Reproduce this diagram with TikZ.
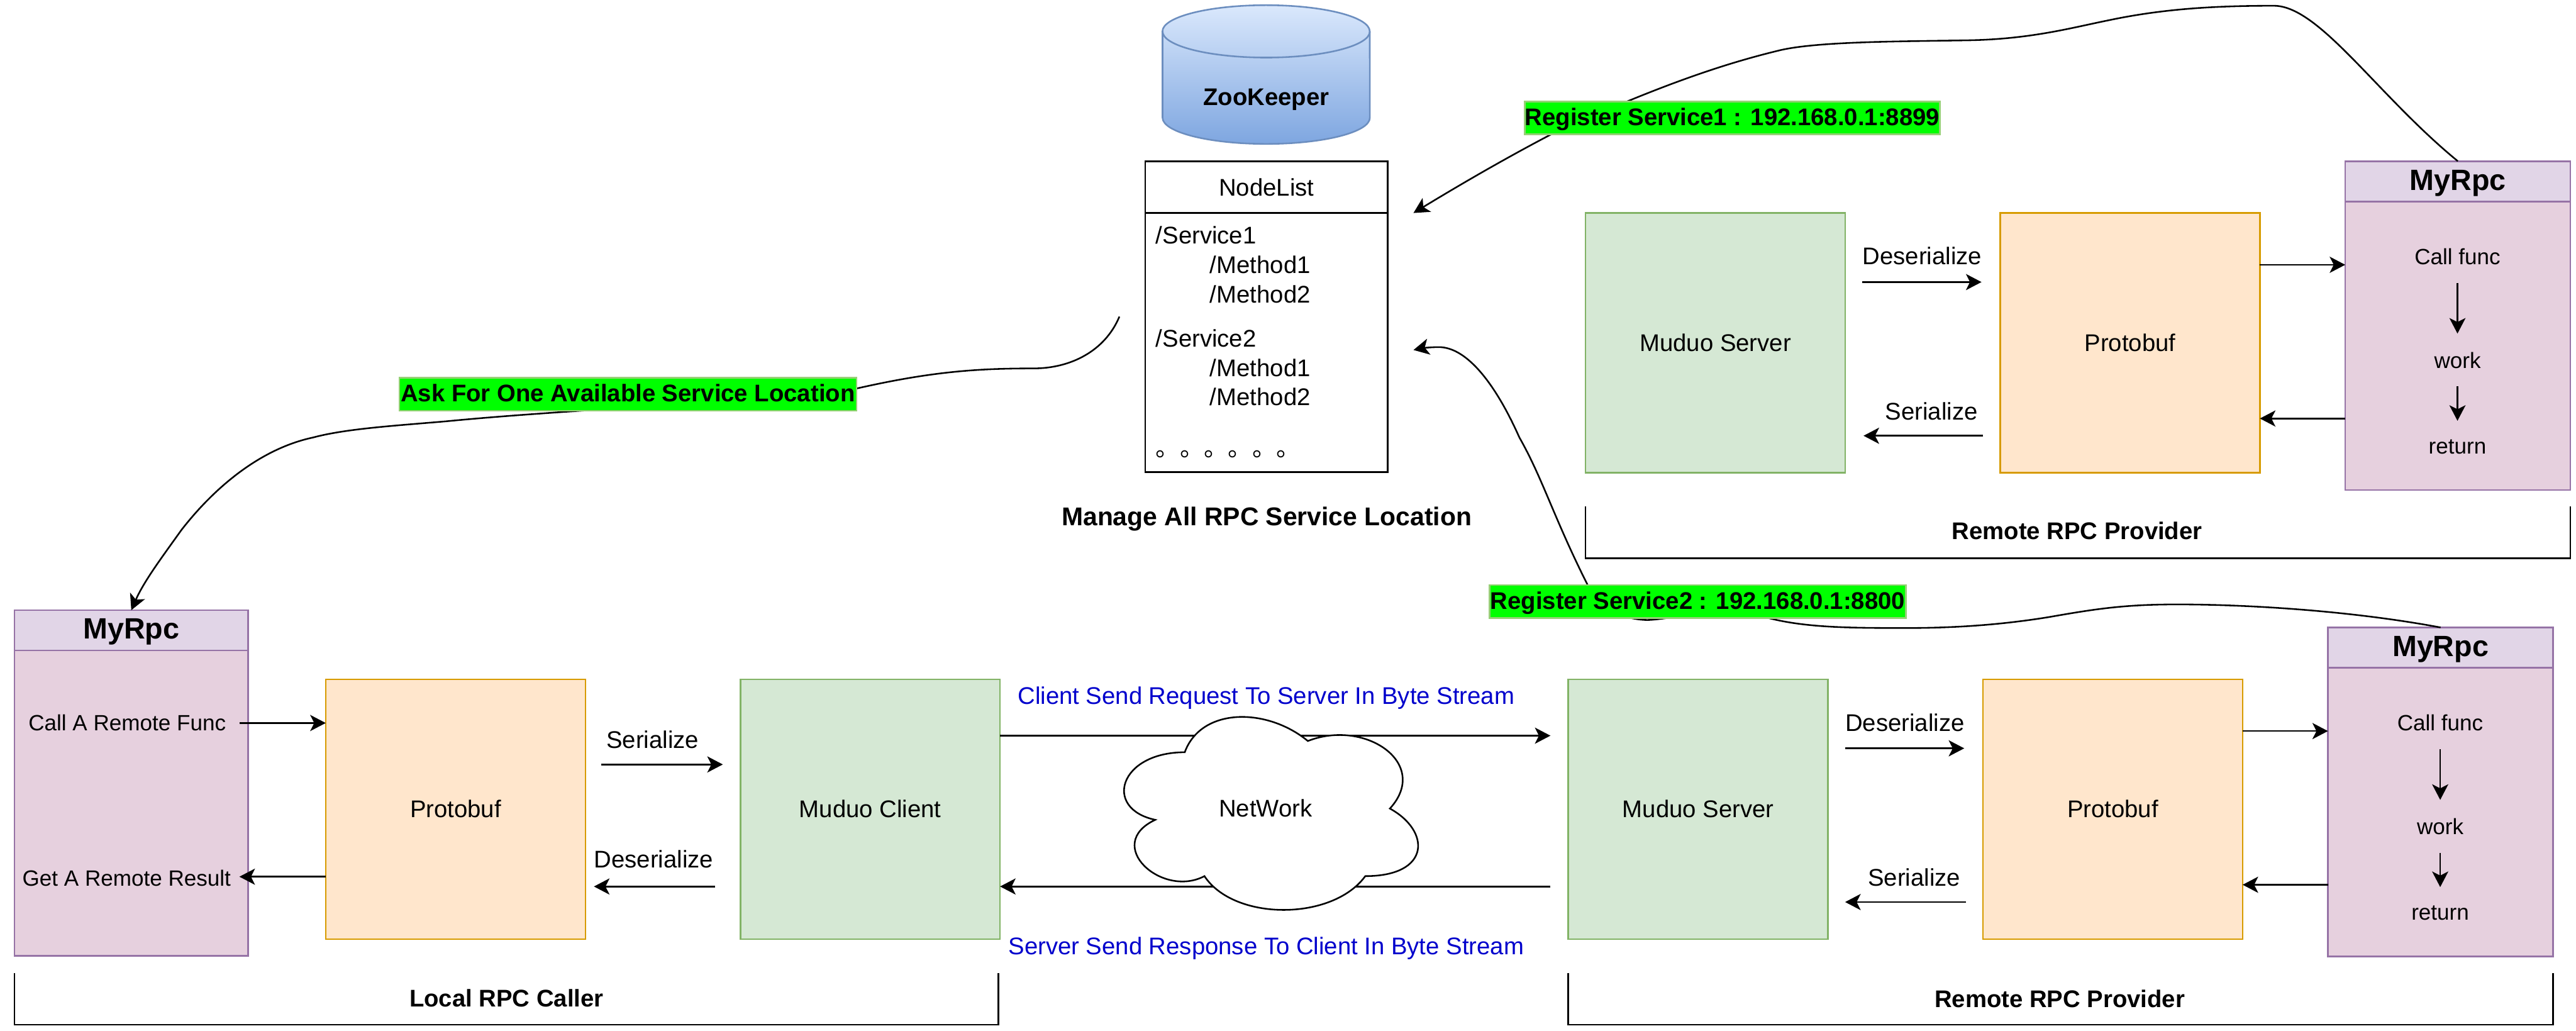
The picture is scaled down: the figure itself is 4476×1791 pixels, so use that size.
\documentclass[tikz,border=0pt]{standalone}
\usepackage{fontspec}
\setmainfont{Liberation Sans}
\newfontfamily\cjk{Noto Sans CJK SC}
\usetikzlibrary{positioning,arrows.meta}
\definecolor{mgreen}{HTML}{D5E8D4}
\definecolor{mgreenl}{HTML}{82B366}
\definecolor{morange}{HTML}{FFE6CC}
\definecolor{morangel}{HTML}{D79B00}
\definecolor{mpurple}{HTML}{E6D0DE}
\definecolor{mpurplel}{HTML}{9673A6}
\definecolor{mhead}{HTML}{E1D5E7}
\definecolor{mtag}{HTML}{97D077}
\definecolor{mdbtop}{HTML}{DAE8FC}
\definecolor{mdbbot}{HTML}{7EA6E0}
\definecolor{mdbl}{HTML}{6C8EBF}
\definecolor{mblue}{HTML}{0000CC}

\begin{document}
\begin{tikzpicture}[x=0.01cm, y=-0.01cm, line width=0.8pt,
  >={Stealth[length=2.7mm,width=2.8mm,inset=0.7mm]},
  txt/.style={font=\fontsize{11.9}{14}\selectfont, inner sep=0pt},
  fn/.style={font=\fontsize{10.9}{13}\selectfont, inner sep=0pt},
  bold/.style={font=\fontsize{11.9}{15}\selectfont\bfseries, inner sep=0pt},
  box/.style={txt, draw, outer sep=0pt, minimum width=4.51cm, minimum height=4.51cm},
  muduo/.style={box, draw=mgreenl, fill=mgreen},
  proto/.style={box, draw=morangel, fill=morange},
  head/.style={draw=mpurplel, fill=mhead, outer sep=0pt, inner sep=0pt, minimum height=0.7cm, text height=0.37cm, text depth=0.07cm, font=\fontsize{14.5}{16}\selectfont\bfseries},
  body/.style={draw=mpurplel, fill=mpurple, outer sep=0pt, inner sep=0pt, minimum height=5.01cm},
  tag/.style={font=\fontsize{11.9}{14}\selectfont\bfseries, draw=mtag, fill=green, outer sep=0pt, inner sep=0pt, minimum height=0.57cm, text height=0.32cm, text depth=0.06cm},
  msg/.style={txt, text=mblue}]
\useasboundingbox (0,0) rectangle (4476,1791);

% zookeeper
\draw[draw=mdbl, top color=mdbtop, bottom color=mdbbot] (2020,54.5) -- (2020,204.5) arc[start angle=180, end angle=360, x radius=1.8cm, y radius=0.455cm] -- (2380,54.5) arc[start angle=0, end angle=180, x radius=1.8cm, y radius=0.455cm] -- cycle;
\draw[draw=mdbl] (2020,54.5) arc[start angle=180, end angle=360, x radius=1.8cm, y radius=0.455cm];
\node[bold] (zk) at (2200,173) {ZooKeeper};
\node[txt, draw, outer sep=0pt, minimum width=4.21cm, minimum height=0.9cm, anchor=north west] (listhead) at (1990,280) {NodeList};
\node[draw, outer sep=0pt, minimum width=4.21cm, minimum height=4.5cm, below=0cm of listhead] (listbody) {};
\node[txt, align=left, anchor=north west, font=\fontsize{11.9}{14.5}\selectfont] (items) at (2007,392) {/Service1\\
\hspace*{0.94cm}/Method1\\
\hspace*{0.94cm}/Method2\\[0.26cm]
/Service2\\
\hspace*{0.94cm}/Method1\\
\hspace*{0.94cm}/Method2\\[0.37cm]
{\cjk 。。。。。。}};
\node[bold, font=\fontsize{12.7}{15}\selectfont\bfseries] (manage) at (2201,902) {Manage All RPC Service Location};

% local caller
\node[head, minimum width=4.06cm, anchor=north west] (rpca) at (25,1060) {MyRpc};
\node[body, minimum width=4.06cm, minimum height=5.3cm, below=0cm of rpca] (rpcabody) {};
\node[proto, anchor=north west] (pba) at (566,1180) {Protobuf};
\node[muduo, right=2.69cm of pba] (cli) {Muduo Client};
\node[fn] (calla) at (221,1256) {Call A Remote Func};
\node[fn] (geta) at (220,1525) {Get A Remote Result};
\node[txt] (sera) at (1134,1285) {Serialize};
\node[txt] (desa) at (1136,1493) {Deserialize};
\node[bold] (local) at (880,1734) {Local RPC Caller};

% lower provider
\node[muduo, anchor=north west] (srvb) at (2725,1180) {Muduo Server};
\node[proto, right=2.69cm of srvb] (pbb) {Protobuf};
\node[head, minimum width=3.91cm, anchor=north west] (rpcb) at (4045,1090) {MyRpc};
\node[body, minimum width=3.91cm, below=0cm of rpcb] (rpcbbody) {};
\node[fn] (callb) at (4240,1256) {Call func};
\node[fn] (workb) at (4240,1436) {work};
\node[fn] (retb) at (4240,1586) {return};
\node[txt] (desb) at (3310,1255) {Deserialize};
\node[txt] (serb) at (3326,1524) {Serialize};
\node[bold] (provb) at (3579,1735) {Remote RPC Provider};

% upper provider
\node[muduo, anchor=north west] (srvc) at (2755,370) {Muduo Server};
\node[proto, right=2.69cm of srvc] (pbc) {Protobuf};
\node[head, minimum width=3.91cm, anchor=north west] (rpcc) at (4075,280) {MyRpc};
\node[body, minimum width=3.91cm, below=0cm of rpcc] (rpccbody) {};
\node[fn] (callc) at (4270,446) {Call func};
\node[fn] (workc) at (4270,626) {work};
\node[fn] (retc) at (4270,776) {return};
\node[txt] (desc) at (3340,445) {Deserialize};
\node[txt] (serc) at (3356,714) {Serialize};
\node[bold] (provc) at (3609,922) {Remote RPC Provider};

% free ends
\coordinate (a1) at (416,1256);
\coordinate (a2) at (416,1523);
\coordinate (a3) at (1045,1328);
\coordinate (a4) at (1256,1328);
\coordinate (a5) at (1242,1540);
\coordinate (a6) at (1032,1540);
\coordinate (m1) at (2694,1278);
\coordinate (m2) at (2694,1540);
\coordinate (b1) at (3206,1300);
\coordinate (b2) at (3413,1300);
\coordinate (b3) at (3416,1567);
\coordinate (b4) at (3206,1567);
\coordinate (b5) at (4000,1270);
\coordinate (b6) at (4000,1537);
\coordinate (c1) at (3236,490);
\coordinate (c2) at (3443,490);
\coordinate (c3) at (3446,757);
\coordinate (c4) at (3238,757);
\coordinate (c5) at (4000,460);
\coordinate (c6) at (4000,727);
\coordinate (tipone) at (2456,370);
\coordinate (tiptwo) at (2456,608);
\coordinate (askfrom) at (1945,550);

\draw[->] (a1) -- (a1 -| pba.west);
\draw[->] (a2 -| pba.west) -- (a2);
\draw[->] (a3) -- (a4);
\draw[->] (a5) -- (a6);
\draw[->] (m1 -| cli.east) -- (m1);
\draw[->] (m2) -- (m2 -| cli.east);
\draw[->] (b1) -- (b2);
\draw[->] (b3) -- (b4);
\draw[->] (b5 -| pbb.east) -- (b5 -| rpcbbody.west);
\draw[->] (b6 -| rpcbbody.west) -- (b6 -| pbb.east);
\draw[->] ([yshift=-0.3cm]callb.south) -- ([yshift=0.31cm]workb.north);
\draw[->] ([yshift=-0.3cm]workb.south) -- ([yshift=0.31cm]retb.north);
\draw[->] (c1) -- (c2);
\draw[->] (c3) -- (c4);
\draw[->] (c5 -| pbc.east) -- (c5 -| rpccbody.west);
\draw[->] (c6 -| rpccbody.west) -- (c6 -| pbc.east);
\draw[->] ([yshift=-0.3cm]callc.south) -- ([yshift=0.31cm]workc.north);
\draw[->] ([yshift=-0.3cm]workc.south) -- ([yshift=0.31cm]retc.north);

% brackets
\coordinate (la) at (25,1690);
\coordinate (ra) at (1735,1690);
\coordinate (lb) at (2725,1690);
\coordinate (rb) at (4436,1690);
\coordinate (lc) at (2755,880);
\coordinate (rc) at (4466,880);
\draw (la) -- ++(0,90) -| (ra);
\draw (lb) -- ++(0,90) -| (rb);
\draw (lc) -- ++(0,90) -| (rc);

% network
\begin{scope}[shift={(1916,1209)}, x=5.7cm, y=-3.91cm]
\draw[fill=white] (0.25,0.25) .. controls (0.05,0.25) and (0,0.5) .. (0.16,0.55)
  .. controls (0,0.66) and (0.18,0.9) .. (0.31,0.8)
  .. controls (0.4,1) and (0.7,1) .. (0.8,0.8)
  .. controls (1,0.8) and (1,0.6) .. (0.875,0.5)
  .. controls (1,0.3) and (0.8,0.1) .. (0.625,0.2)
  .. controls (0.5,0.05) and (0.3,0.05) .. (0.25,0.25) -- cycle;
\end{scope}
\node[txt] (net) at (2199,1404) {NetWork};
\node[msg] (req) at (2200,1212) {Client Send Request To Server In Byte Stream};
\node[msg] (resp) at (2200,1647) {Server Send Response To Client In Byte Stream};

% curved links
\draw[->] (rpcc.north) .. controls (4130,165) and (4030,10) .. (3951,10)
  .. controls (3850,10) and (3760,15) .. (3665,35)
  .. controls (3600,48) and (3530,68) .. (3420,70)
  .. controls (3300,72) and (3160,72) .. (3094,87)
  .. controls (2990,112) and (2880,150) .. (2696,233)
  .. controls (2610,278) and (2530,325) .. (tipone);
\draw[->] (askfrom) .. controls (1920,610) and (1860,640) .. (1796,640)
  .. controls (1700,640) and (1620,645) .. (1488,675)
  .. controls (1300,700) and (1000,710) .. (774,732)
  .. controls (680,740) and (600,745) .. (544,760)
  .. controls (450,780) and (370,850) .. (315,921)
  .. controls (280,970) and (250,1010) .. (rpca.north);
\draw[->] (rpcb.north) .. controls (4080,1060) and (3900,1050) .. (3783,1050)
  .. controls (3690,1050) and (3640,1058) .. (3560,1072)
  .. controls (3480,1085) and (3400,1091) .. (3311,1091)
  .. controls (3200,1091) and (3120,1090) .. (3050,1067)
  .. controls (3000,1050) and (2900,1077) .. (2862,1077)
  .. controls (2835,1077) and (2780,1065) .. (2759,1017)
  .. controls (2700,900) and (2680,830) .. (2640,760)
  .. controls (2600,670) and (2550,603) .. (2500,603)
  .. controls (2485,603) and (2470,605) .. (tiptwo);
\node[tag, minimum width=7.21cm] (regone) at (3010,205) {Register Service1 : 192.168.0.1:8899};
\node[tag, minimum width=7.23cm] (regtwo) at (2950,1045) {Register Service2 : 192.168.0.1:8800};
\node[tag, minimum width=7.94cm] (ask) at (1091,685) {Ask For One Available Service Location};
\end{tikzpicture}
\end{document}
